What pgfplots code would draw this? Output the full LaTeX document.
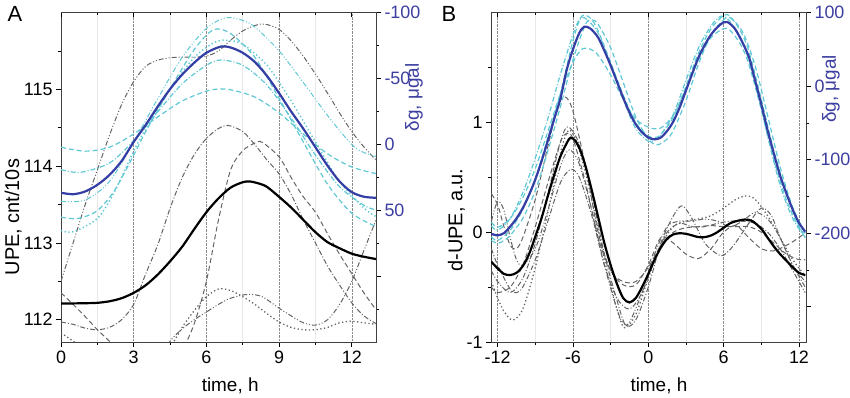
\documentclass[border=0pt]{standalone}
\usepackage{pgfplots}
\pgfplotsset{compat=1.18}
\usepackage{fontspec}
\setmainfont{Liberation Sans}
\definecolor{gblue}{RGB}{52,62,165}
\definecolor{tblue}{RGB}{60,62,160}
\definecolor{gcyan}{RGB}{95,200,212}
\definecolor{ggray}{RGB}{100,100,100}
\tikzset{
 mean/.style={line width=2.2bp},
 ind/.style={line width=1bp},
 ldash/.style={dash pattern=on 5bp off 3bp},
 ldashdot/.style={dash pattern=on 5bp off 2bp on 1bp off 2bp},
 ldashdotdot/.style={dash pattern=on 5bp off 2bp on 1bp off 2bp on 1bp off 2bp},
 ldot/.style={dash pattern=on 1.3bp off 2.5bp},
}
\pgfplotsset{
 base/.style={scale only axis, width=315bp, height=329.5bp, anchor=south west,
   tick label style={font=\fontsize{18}{18}\selectfont},
   /pgf/number format/assume math mode=true,
   major tick length=5bp, minor tick length=3bp,
   tick style={black, line width=0.6pt},
   axis line style={line width=0.8pt, black!75}},
 labs/.style={
   xlabel style={font=\fontsize{19}{19}\selectfont, anchor=center},
   ylabel style={font=\fontsize{20}{20}\selectfont, anchor=center}},
}
\begin{document}
\begin{tikzpicture}
\useasboundingbox (0,0) rectangle (850bp,398bp);
% ---------------- Panel A: UPE ----------------
\begin{axis}[base, labs, at={(61bp,56bp)},
  xmin=0, xmax=13, ymin=111.71, ymax=116.0,
  xtick={0,3,6,9,12}, minor xtick={1.5,4.5,7.5,10.5},
  ytick={112,113,114,115}, minor ytick={112.5,113.5,114.5,115.5},
  xtick pos=bottom, ytick pos=left, tick align=outside,
  xmajorgrids, xminorgrids,
  major grid style={densely dotted, black!45, line width=0.5pt},
  minor grid style={black!9, line width=0.5pt},
  xlabel={time, h}, ylabel={UPE, cnt/10s},
  xlabel style={at={(axis description cs:0.537,-0.134)}},
  ylabel style={at={(axis description cs:-0.152,0.379)}}]
\addplot[ind, ggray, ldashdotdot, smooth] coordinates {(0,112.5) (0.5,113.0) (1,113.5) (1.5,113.95) (2,114.4) (2.5,114.8) (3,115.1) (3.5,115.3) (4,115.38) (4.5,115.41) (5,115.42) (5.5,115.42) (6,115.43) (6.5,115.5) (7,115.64) (7.5,115.76) (8,115.83) (8.4,115.85) (9,115.78) (9.5,115.63) (10,115.43) (10.5,115.2) (11,114.95) (11.5,114.69) (12,114.45) (12.5,114.25) (13,114.08)};
\addplot[ind, ggray, ldashdot, smooth] coordinates {(0,111.97) (0.5,111.94) (1,111.89) (1.5,111.87) (2,111.9) (2.5,112.0) (3,112.2) (3.5,112.6) (4,112.98) (4.5,113.45) (5,113.85) (5.5,114.15) (6,114.36) (6.5,114.49) (6.9,114.53) (7.5,114.45) (8,114.28) (8.5,114.08) (9,113.9) (9.5,113.63) (10,113.3) (10.5,113.0) (11,112.7) (11.5,112.45) (12,112.22) (12.5,112.05) (13,111.95)};
\addplot[ind, ggray, ldash, smooth] coordinates {(0,112.35) (0.5,112.2) (1,112.04) (1.5,111.87) (2,111.72) (2.5,111.55) (3,111.4) (3.5,111.3) (4,111.3) (4.5,111.4) (5,111.6) (5.5,111.95) (6,112.5) (6.5,113.3) (7,113.95) (7.5,114.2) (8,114.3) (8.3,114.31) (9,114.12) (9.5,113.85) (10,113.6) (10.5,113.4) (11,113.12) (11.5,112.85) (12,112.6) (12.5,112.35) (13,112.13)};
\addplot[ind, ggray, ldot, line width=1.3bp, smooth] coordinates {(0,111.83) (0.5,111.72) (1,111.6) (1.5,111.45) (2.5,111.2) (3.5,111.1) (4,111.3) (4.5,111.62) (5,111.9) (5.5,112.12) (6,112.3) (6.5,112.4) (7,112.38) (7.5,112.3) (8,112.2) (8.5,112.08) (9,111.97) (9.5,111.9) (10,111.87) (10.5,111.87) (11,111.9) (11.5,111.96) (12,111.98) (12.5,111.96) (13,111.94)};
\addplot[ind, ggray, ldashdotdot, smooth] coordinates {(0,111.5) (2,111.0) (4,111.45) (4.5,111.72) (5,111.88) (5.5,112.0) (6,112.1) (6.5,112.2) (7,112.28) (7.7,112.33) (8.3,112.3) (9,112.15) (9.5,112.05) (10,111.96) (10.5,111.93) (11,112.0) (11.5,112.2) (12,112.5) (12.5,112.9) (13,113.3)};
\addplot[mean, black, smooth] coordinates {(0,112.21) (1,112.215) (1.5,112.22) (2,112.24) (2.5,112.28) (3,112.35) (3.5,112.45) (4,112.59) (4.5,112.76) (5,112.95) (5.5,113.18) (6,113.40) (6.5,113.58) (7,113.72) (7.5,113.79) (7.8,113.80) (8.2,113.77) (8.5,113.73) (9,113.6) (9.5,113.46) (10,113.30) (10.5,113.14) (11,113.01) (11.5,112.93) (12,112.86) (12.5,112.82) (13,112.79)};
\end{axis}
% Panel A: gravity (right axis)
\begin{axis}[base, at={(61bp,56bp)},
  xmin=0, xmax=13, ymin=-100, ymax=149.5, y dir=reverse,
  axis x line=none, axis y line*=right, tick align=outside,
  ytick={-100,-50,0,50,100}, yticklabels={-100,-50,0,50,{}},
  minor ytick={-75,-25,25,75,125},
  yticklabel style={text=tblue}]
\addplot[ind, gcyan, ldashdotdot, smooth] coordinates {(0,43) (1,42) (2,28) (3,-2) (4,-35) (5,-66) (6,-88) (6.8,-96) (7.5,-94) (8,-89) (9,-71) (10,-47) (11,-22) (12,0) (12.5,6) (13,9)};
\addplot[ind, gcyan, ldash, line width=1.2bp, smooth] coordinates {(0,2) (1,5) (2,2) (3,-8) (4,-21) (5,-33) (6,-40.5) (6.5,-42) (7,-41.5) (8,-36) (9,-24) (10,-8) (11,7) (12,17) (13,22)};
\addplot[ind, gcyan, ldash, line width=1.2bp, smooth] coordinates {(0,55) (0.7,56) (1.5,50) (2.2,35) (3,8) (3.5,-10) (4.5,-42) (5.5,-72) (6.3,-87) (7,-84) (8,-66) (9,-35) (10,-2) (11,30) (12,52) (13,62)};
\addplot[ind, gcyan, ldashdot, line width=1.2bp, smooth] coordinates {(0,19) (0.8,21) (2,14) (3,-3) (4,-25) (5,-46) (6,-60) (6.6,-64) (7.5,-60) (8.5,-45) (9.5,-20) (10.5,8) (11.5,32) (12.5,46) (13,49.5)};
\addplot[ind, gcyan, ldot, line width=1.5bp, smooth] coordinates {(0,65) (0.5,66) (1.5,56) (2.2,36) (3,5) (3.5,-12) (4.5,-42) (5.5,-66) (6.3,-77) (6.8,-79) (7.5,-76) (8.5,-60) (9.5,-33) (10.5,-2) (11.5,28) (12.5,48) (13,54.5)};
\addplot[mean, gblue, smooth] coordinates {(0,36.5) (0.5,37.6) (1,35.5) (1.5,30.5) (2,23) (2.5,12.5) (3,-2) (3.5,-15) (4,-29) (4.5,-42) (5,-53) (5.5,-62) (6,-69.5) (6.6,-74.2) (7,-73.5) (7.5,-69.5) (8,-62.5) (8.5,-52) (9,-38.9) (9.5,-25) (10,-12) (10.5,2) (11,16) (11.5,28) (12,36) (12.5,39.5) (13,40.3)};
\end{axis}
% Panel A: top ticks
\begin{axis}[base, at={(61bp,56bp)},
  xmin=0, xmax=13, ymin=0, ymax=1,
  axis y line=none, axis x line*=top, tick align=inside,
  xtick={0,3,6,9,12}, minor xtick={1.5,4.5,7.5,10.5}, xticklabels={}]
\end{axis}
% ---------------- Panel B: d-UPE ----------------
\begin{axis}[base, labs, at={(491bp,56bp)},
  xmin=-12.53, xmax=12.56, ymin=-1, ymax=2.0,
  xtick={-12,-6,0,6,12}, minor xtick={-9,-3,3,9},
  ytick={-1,0,1}, minor ytick={-0.5,0.5,1.5},
  xtick pos=bottom, ytick pos=left, tick align=outside,
  xmajorgrids, xminorgrids,
  major grid style={densely dotted, black!45, line width=0.5pt},
  minor grid style={black!9, line width=0.5pt},
  xlabel={time, h}, ylabel={d-UPE, a.u.},
  xlabel style={at={(axis description cs:0.533,-0.134)}},
  ylabel style={at={(axis description cs:-0.110,0.370)}}]
\addplot[ind, ggray, ldash, smooth] coordinates {(-12.5,0.35) (-12,0.25) (-11.5,0.05) (-11,-0.12) (-10.5,-0.15) (-10,-0.05) (-9,0.3) (-8,0.78) (-7.2,1.15) (-6.6,1.23) (-6,1.1) (-5,0.6) (-4,0.0) (-3,-0.35) (-2,-0.45) (-1,-0.45) (0,-0.32) (1,-0.12) (2,0.0) (3,0.04) (4,0.05) (5,0.06) (6,0.05) (7,0.05) (8,0.05) (9,0.0) (10,-0.1) (11,-0.2) (12,-0.25) (12.5,-0.25)};
\addplot[ind, ggray, ldashdot, smooth] coordinates {(-12.5,-0.35) (-12,-0.45) (-11,-0.55) (-10,-0.42) (-9,-0.1) (-8,0.35) (-7,0.82) (-6.4,0.96) (-5.5,0.8) (-4.5,0.35) (-3.5,-0.2) (-2.5,-0.62) (-1.8,-0.85) (-1,-0.8) (0,-0.5) (1,-0.1) (2,0.15) (2.7,0.24) (3.5,0.12) (4.5,-0.1) (5.5,-0.2) (6,-0.21) (6.8,-0.12) (8,0.08) (9,0.22) (9.8,0.15) (10.5,-0.05) (11.5,-0.3) (12.5,-0.5)};
\addplot[ind, ggray, ldot, line width=1.3bp, smooth] coordinates {(-12.5,-0.45) (-12,-0.6) (-11.5,-0.72) (-10.8,-0.8) (-10,-0.7) (-9,-0.32) (-8,0.18) (-7,0.72) (-6.3,0.93) (-5.5,0.75) (-4.5,0.3) (-3.5,-0.25) (-2.5,-0.7) (-1.9,-0.87) (-1,-0.75) (0,-0.42) (1,-0.12) (2,0.05) (3,0.1) (4,0.12) (5,0.15) (6,0.22) (7,0.3) (7.8,0.33) (8.5,0.3) (9.5,0.15) (10.5,-0.05) (11.5,-0.25) (12.5,-0.4)};
\addplot[ind, ggray, ldashdot, smooth] coordinates {(-12.5,-0.15) (-12,-0.3) (-11,-0.52) (-10.5,-0.55) (-10,-0.5) (-9,-0.25) (-8,0.1) (-7,0.45) (-6.2,0.57) (-5.5,0.5) (-4.5,0.15) (-3.5,-0.3) (-2.5,-0.6) (-1.5,-0.7) (-0.5,-0.55) (0.5,-0.25) (1.5,0.0) (2.5,0.08) (3.5,0.05) (4.5,0.05) (5.5,0.08) (6.5,0.1) (7.5,0.1) (8.5,0.08) (9.5,0.0) (10.5,-0.15) (11.5,-0.35) (12.5,-0.55)};
\addplot[ind, ggray, ldash, smooth] coordinates {(-12.5,-0.5) (-12,-0.55) (-11,-0.5) (-10,-0.3) (-9,0.05) (-8,0.45) (-7,0.82) (-6.5,0.9) (-6,0.85) (-5,0.45) (-4,-0.05) (-3,-0.35) (-2,-0.48) (-1,-0.48) (0,-0.3) (1,-0.05) (2,-0.1) (3,-0.2) (4,-0.24) (5,-0.15) (6,0.0) (7,0.06) (8,-0.05) (9,-0.15) (10,-0.17) (11,-0.12) (12,-0.05) (12.5,0.0)};
\addplot[ind, ggray, ldashdotdot, smooth] coordinates {(-12.5,0.1) (-12,0.28) (-11.5,0.2) (-11,-0.05) (-10.5,-0.25) (-10,-0.3) (-9,-0.15) (-8,0.2) (-7,0.6) (-6.3,0.75) (-5.5,0.62) (-4.5,0.2) (-3.5,-0.3) (-2.5,-0.7) (-2,-0.83) (-1.5,-0.82) (-0.5,-0.55) (0.5,-0.2) (1.5,0.05) (2.5,0.1) (3.5,0.1) (4.5,0.12) (5.5,0.1) (6.5,0.05) (7.5,0.1) (8.5,0.18) (9.5,0.12) (10.5,-0.05) (11.5,-0.3) (12.5,-0.45)};
\addplot[mean, black, smooth] coordinates {(-12.5,-0.27) (-12,-0.33) (-11.5,-0.38) (-11,-0.39) (-10.5,-0.37) (-10,-0.31) (-9.5,-0.2) (-9,-0.04) (-8.5,0.13) (-8,0.33) (-7.5,0.52) (-7,0.69) (-6.5,0.81) (-6.2,0.86) (-5.8,0.83) (-5.4,0.74) (-5,0.6) (-4.5,0.38) (-4,0.14) (-3.5,-0.1) (-3,-0.3) (-2.5,-0.47) (-2,-0.6) (-1.5,-0.64) (-1,-0.6) (-0.5,-0.5) (0,-0.38) (0.5,-0.25) (1,-0.14) (1.5,-0.06) (2,-0.02) (2.5,-0.01) (3,-0.015) (3.5,-0.03) (4,-0.045) (4.5,-0.045) (5,-0.03) (5.5,0.0) (6,0.04) (6.5,0.08) (7,0.1) (7.7,0.115) (8.3,0.1) (9,0.03) (9.5,-0.05) (10,-0.13) (10.5,-0.2) (11,-0.26) (11.5,-0.32) (12,-0.37) (12.5,-0.39)};
\end{axis}
% Panel B: gravity (right axis)
\begin{axis}[base, at={(491bp,56bp)},
  xmin=-12.53, xmax=12.56, ymin=-348, ymax=100,
  axis x line=none, axis y line*=right, tick align=outside,
  ytick={100,0,-100,-200,-300}, yticklabels={100,0,-100,-200,{}},
  minor ytick={50,-50,-150,-250},
  yticklabel style={text=tblue}]
\addplot[ind, gcyan, ldash, line width=1.2bp, smooth] coordinates {(-12.5,-205) (-12,-210) (-11,-196) (-10,-168) (-9,-126) (-8,-70) (-7,-10) (-6,62) (-5.3,95) (-4.6,92) (-4,75) (-3,32) (-2,-12) (-1,-50) (0,-68) (0.5,-70) (1,-66) (2,-42) (3,0) (4,45) (5,78) (6,96) (6.5,95) (7.3,76) (8,48) (9,-18) (10,-88) (11,-145) (12,-190) (12.5,-205)};
\addplot[ind, gcyan, ldash, line width=1.2bp, smooth] coordinates {(-12.5,-185) (-12,-192) (-11,-180) (-10,-152) (-9,-112) (-8,-62) (-7,-10) (-6,32) (-5.3,50) (-4.6,50) (-4,42) (-3,15) (-2,-18) (-1,-45) (0,-56) (0.5,-58) (1,-57) (2,-40) (3,-4) (4,36) (5,66) (6,78) (6.5,76) (7.3,58) (8,30) (9,-32) (10,-100) (11,-155) (12,-192) (12.5,-200)};
\addplot[ind, gcyan, ldash, line width=1.2bp, smooth] coordinates {(-12.5,-210) (-12,-214) (-11.5,-210) (-11,-203) (-10,-180) (-9,-142) (-8,-88) (-7,-28) (-6,36) (-5,84) (-4.5,90) (-4,84) (-3,52) (-2,5) (-1,-42) (0,-72) (0.7,-80) (1.5,-72) (2,-60) (3,-20) (4,30) (5,70) (6,90) (6.5,93) (7.5,74) (8.5,28) (9.5,-40) (10.5,-110) (11.5,-165) (12.5,-200)};
\addplot[ind, gcyan, ldashdot, line width=1.2bp, smooth] coordinates {(-12.5,-190) (-12,-196) (-11,-180) (-10,-145) (-9,-98) (-8,-44) (-7,16) (-6,70) (-5.5,90) (-5,92) (-4,72) (-3,30) (-2,-18) (-1,-58) (0,-75) (0.5,-73) (1,-66) (2,-38) (3,8) (4,52) (5,82) (5.8,95) (6.5,88) (7.5,60) (8.5,5) (9.5,-68) (10.5,-135) (11.5,-180) (12.5,-206)};
\addplot[mean, gblue, smooth] coordinates {(-12.5,-201) (-12,-203) (-11.5,-200) (-11,-191) (-10.5,-180) (-10,-166) (-9.5,-148) (-9,-127) (-8.5,-102) (-8,-74) (-7.5,-45) (-7,-17) (-6.5,22) (-6,50) (-5.5,72) (-5.1,80.7) (-4.6,78) (-4,66) (-3.5,48) (-3,28) (-2.5,6) (-2,-16) (-1.5,-36) (-1,-52) (-0.5,-63) (0,-70) (0.5,-72.5) (1,-70) (1.5,-61) (2,-48) (2.5,-29) (3,-6) (3.5,17) (4,39) (4.5,56) (5,70) (5.5,80) (6,86.7) (6.3,87) (6.8,80) (7.3,66) (8,40) (8.5,8) (9,-25) (9.5,-60) (10,-92) (10.5,-122) (11,-146) (11.5,-168) (12,-186) (12.5,-198)};
\end{axis}
% Panel B: top ticks
\begin{axis}[base, at={(491bp,56bp)},
  xmin=-12.53, xmax=12.56, ymin=0, ymax=1,
  axis y line=none, axis x line*=top, tick align=inside,
  xtick={-12,-6,0,6,12}, minor xtick={-9,-3,3,9}, xticklabels={}]
\end{axis}
% right-axis labels
\node[text=tblue, font=\fontsize{19}{19}\selectfont, rotate=90] at (414bp,300.5bp) {δg, μgal};
\node[text=tblue, font=\fontsize{19}{19}\selectfont, rotate=90] at (831bp,309bp) {δg, μgal};
% panel letters
\node[font=\fontsize{22}{22}\selectfont] at (15bp,384bp) {A};
\node[font=\fontsize{22}{22}\selectfont] at (449bp,384bp) {B};
\end{tikzpicture}
\end{document}
